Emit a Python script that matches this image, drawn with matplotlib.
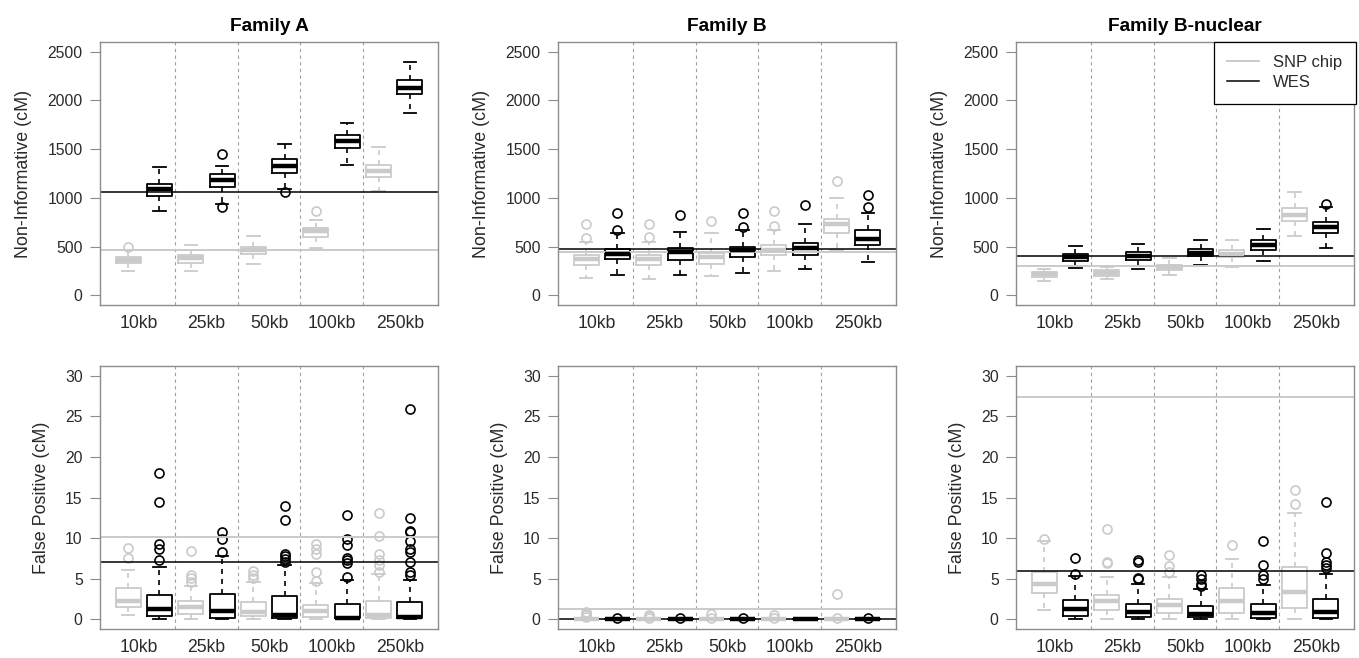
import matplotlib
matplotlib.use("Agg")
import matplotlib.pyplot as plt

plt.rcParams["font.family"] = ["Liberation Sans", "DejaVu Sans"]

families = ["Family A", "Family B", "Family B-nuclear"]
windows = ["10kb", "25kb", "50kb", "100kb", "250kb"]
platforms = ["SNP chip", "WES"]

# box stats per window: [whisker low, q1, median, q3, whisker high]
A_ni_snp = [[250, 330, 362, 395, 462], [250, 336, 384, 411, 514], [325, 421, 469, 497, 606],
            [490, 599, 658, 695, 777], [1069, 1216, 1274, 1339, 1524]]
A_ni_snp_out = [[497], [], [], [863], []]
A_ni_wes = [[863, 1017, 1086, 1140, 1312], [942, 1113, 1181, 1243, 1325], [1096, 1260, 1329, 1397, 1551],
            [1342, 1514, 1586, 1647, 1771], [1866, 2065, 2130, 2209, 2390]]
A_ni_wes_out = [[], [908, 1455], [1062], [], []]

B_ni_snp = [[178, 308, 377, 411, 548], [168, 308, 377, 411, 548], [195, 325, 394, 435, 640],
            [250, 411, 469, 521, 675], [469, 640, 729, 788, 1000]]
B_ni_snp_out = [[592, 729], [599, 729], [760], [712, 866], [1175]]
B_ni_wes = [[205, 370, 428, 479, 640], [205, 360, 445, 486, 651], [233, 394, 469, 497, 668],
            [267, 418, 490, 541, 729], [342, 521, 582, 668, 849]]
B_ni_wes_out = [[675, 849], [822], [702, 846], [925], [901, 1034]]

N_ni_snp = [[144, 188, 216, 240, 274], [171, 195, 229, 257, 291], [205, 257, 291, 315, 387],
            [291, 394, 428, 469, 565], [606, 764, 829, 897, 1055]]
N_ni_snp_out = [[], [], [], [], []]
N_ni_wes = [[281, 349, 390, 428, 507], [274, 360, 401, 442, 531], [308, 401, 438, 473, 572],
            [349, 462, 521, 572, 682], [486, 644, 702, 753, 901]]
N_ni_wes_out = [[], [], [], [], [935]]

A_fp_snp = [[0.5, 1.5, 2.2, 3.8, 6.1], [0.0, 0.7, 1.5, 2.2, 4.1], [0.0, 0.45, 0.86, 2.1, 4.55],
            [0.0, 0.3, 1.0, 1.8, 4.5], [0.0, 0.1, 0.5, 2.2, 5.6]]
A_fp_snp_out = [[7.5, 8.8], [4.6, 5.1, 5.5, 8.4], [5.1, 5.5, 5.9], [4.7, 5.8, 8.1, 8.7, 9.3],
                [5.8, 6.7, 7.3, 8.0, 10.3, 13.1]]
A_fp_wes = [[0.08, 0.37, 1.27, 2.95, 6.4], [0.08, 0.16, 0.98, 3.16, 7.76], [0.05, 0.16, 0.57, 2.83, 6.65],
            [0.05, 0.12, 0.16, 1.93, 4.8], [0.05, 0.1, 0.29, 2.13, 4.8]]
A_fp_wes_out = [[7.3, 8.6, 9.3, 14.4, 18.0], [8.25, 9.9, 10.8], [7.06, 7.4, 7.8, 8.0, 12.2, 14.0],
                [5.2, 6.9, 7.3, 7.55, 9.1, 9.9, 12.8],
                [5.5, 5.8, 7.06, 8.25, 8.6, 9.7, 10.7, 10.9, 12.5, 25.9]]

B_fp_snp = [[0, 0, 0, 0.05, 0.1], [0, 0, 0, 0.05, 0.1], [0, 0, 0, 0.05, 0.1],
            [0, 0, 0, 0.05, 0.1], [0, 0, 0, 0.05, 0.1]]
B_fp_snp_out = [[0.3, 0.5, 0.7, 0.9], [0.2, 0.4, 0.5], [0.2, 0.6], [0.2, 0.5], [0.2, 3.1]]
B_fp_wes = [[0, 0, 0, 0.02, 0.05], [0, 0, 0, 0.02, 0.05], [0, 0, 0, 0.02, 0.05],
            [0, 0, 0, 0.02, 0.05], [0, 0, 0, 0.02, 0.05]]
B_fp_wes_out = [[0.2], [0.1], [0.1], [], [0.1]]

N_fp_snp = [[1.2, 3.24, 4.35, 5.8, 9.6], [0.04, 1.1, 2.2, 3.0, 5.2], [0.04, 0.78, 1.72, 2.5, 5.2],
            [0.04, 0.78, 2.2, 3.86, 7.4], [0.04, 1.4, 3.3, 6.4, 13.1]]
N_fp_snp_out = [[9.9], [6.9, 7.06, 11.1], [5.8, 6.6, 7.96], [9.2], [14.2, 15.9]]
N_fp_wes = [[0.08, 0.45, 1.3, 2.34, 5.3], [0.08, 0.29, 0.9, 1.93, 4.35], [0.08, 0.25, 0.7, 1.68, 3.78],
            [0.08, 0.2, 0.78, 1.93, 4.27], [0.08, 0.16, 0.86, 2.54, 5.6]]
N_fp_wes_out = [[5.6, 7.5], [4.97, 5.1, 7.06, 7.26], [4.06, 4.4, 4.97, 5.5], [4.97, 5.5, 6.7, 9.68],
                [6.3, 6.7, 7.0, 8.17, 14.5]]

# horizontal reference lines: (SNP chip, WES)
ni_ref = [(469, 1062), (445, 479), (301, 404)]
fp_ref = [(10.1, 7.1), (1.27, 0.0), (27.4, 6.0)]

ni_snp = [A_ni_snp, B_ni_snp, N_ni_snp]
ni_snp_out = [A_ni_snp_out, B_ni_snp_out, N_ni_snp_out]
ni_wes = [A_ni_wes, B_ni_wes, N_ni_wes]
ni_wes_out = [A_ni_wes_out, B_ni_wes_out, N_ni_wes_out]
fp_snp = [A_fp_snp, B_fp_snp, N_fp_snp]
fp_snp_out = [A_fp_snp_out, B_fp_snp_out, N_fp_snp_out]
fp_wes = [A_fp_wes, B_fp_wes, N_fp_wes]
fp_wes_out = [A_fp_wes_out, B_fp_wes_out, N_fp_wes_out]

GREY = "#cacaca"
FRAME = "#8c8c8c"
TXT = "#2a2a2a"


def make_stats(rows, outs):
    stats = []
    for r, o in zip(rows, outs):
        stats.append(dict(whislo=r[0], q1=r[1], med=r[2], q3=r[3], whishi=r[4], fliers=o))
    return stats


def draw_boxes(ax, stats, pos, color):
    ax.bxp(stats, positions=pos, widths=0.8, showfliers=True, patch_artist=False,
           boxprops=dict(color=color, lw=1.3),
           medianprops=dict(color=color, lw=3.2, solid_capstyle="butt"),
           whiskerprops=dict(color=color, lw=1.2, linestyle=(0, (3, 3))),
           capprops=dict(color=color, lw=1.3),
           flierprops=dict(marker="o", markerfacecolor="none", markeredgecolor=color,
                           markersize=6.5, markeredgewidth=1.2, linestyle="none"))


def setup_panel(ax, ylim, yticks, ylabel):
    ax.set_xlim(0.1, 10.9)
    ax.set_ylim(*ylim)
    for xv in [2.5, 4.5, 6.5, 8.5]:
        ax.axvline(xv, color="#a0a0a0", lw=0.8, ls=(0, (3, 3)), zorder=0)
    ax.set_yticks(yticks)
    ax.tick_params(axis="y", length=7.5, width=0.8, color=FRAME, labelsize=11.3,
                   labelcolor=TXT, pad=5)
    ax.set_xticks([1.35, 3.5, 5.5, 7.5, 9.7])
    ax.set_xticklabels(windows)
    ax.tick_params(axis="x", length=0, labelsize=12.7, labelcolor=TXT, pad=7)
    for s in ax.spines.values():
        s.set_color(FRAME)
        s.set_linewidth(1.0)
    ax.set_ylabel(ylabel, fontsize=12.9, color=TXT, labelpad=11)


fig = plt.figure(figsize=(13.59, 6.58), dpi=100)
lefts = [100 / 1359, 558 / 1359, 1016 / 1359]
w = 338 / 1359
h = 263 / 658

snp_pos = [1, 3, 5, 7, 9]
wes_pos = [2, 4, 6, 8, 10]

for i in range(3):
    ax = fig.add_axes([lefts[i], 1 - 305 / 658, w, h])
    draw_boxes(ax, make_stats(ni_snp[i], ni_snp_out[i]), snp_pos, GREY)
    draw_boxes(ax, make_stats(ni_wes[i], ni_wes_out[i]), wes_pos, "black")
    ax.axhline(ni_ref[i][0], color=GREY, lw=1.4, label=platforms[0])
    ax.axhline(ni_ref[i][1], color="black", lw=1.1, label=platforms[1])
    setup_panel(ax, (-100, 2600), [0, 500, 1000, 1500, 2000, 2500], "Non-Informative (cM)")
    ax.set_title(families[i], fontsize=13.8, fontweight="bold", pad=8)
    if i == 2:
        leg = ax.legend(loc="upper right", bbox_to_anchor=(1.005, 1.0), borderaxespad=0,
                        fancybox=False, edgecolor="black", framealpha=1, fontsize=12,
                        handlelength=1.9, handletextpad=0.85, borderpad=0.8,
                        labelspacing=0.3, labelcolor=TXT)
        leg.get_frame().set_linewidth(0.9)

    ax2 = fig.add_axes([lefts[i], 1 - 629 / 658, w, h])
    draw_boxes(ax2, make_stats(fp_snp[i], fp_snp_out[i]), snp_pos, GREY)
    draw_boxes(ax2, make_stats(fp_wes[i], fp_wes_out[i]), wes_pos, "black")
    ax2.axhline(fp_ref[i][0], color=GREY, lw=1.4)
    ax2.axhline(fp_ref[i][1], color="black", lw=1.1)
    setup_panel(ax2, (-1.2, 31.2), [0, 5, 10, 15, 20, 25, 30], "False Positive (cM)")

fig.savefig("out.png", dpi=100)
